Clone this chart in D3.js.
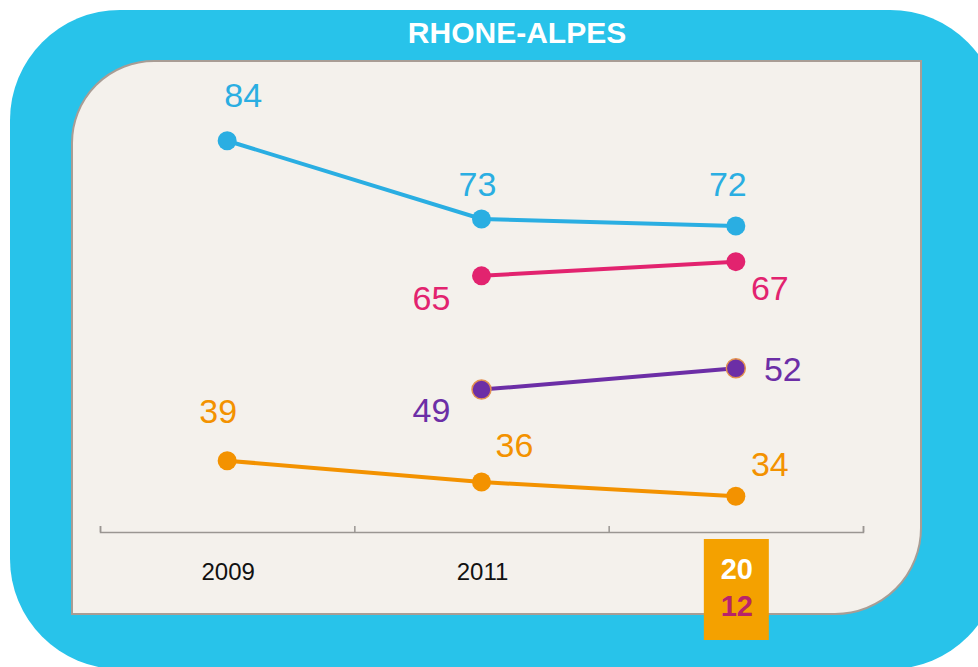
<!DOCTYPE html>
<html>
<head>
<meta charset="utf-8">
<script src="https://cdn.jsdelivr.net/npm/d3@7"></script>
<style>
  html, body { margin: 0; padding: 0; background: #fff; }
  svg { display: block; font-family: "Liberation Sans", Arial, sans-serif; }
</style>
</head>
<body>
<div id="chart"></div>
<script>
// data
const years = ["2009", "2011", "2012"];
const blueValues = [84, 73, 72];
const pinkValues = [null, 65, 67];
const purpleValues = [null, 49, 52];
const orangeValues = [39, 36, 34];
const title = "RHONE-ALPES";

const series = [
  { name: "blue",   values: blueValues,   color: "#2aaee2", stroke: null },
  { name: "pink",   values: pinkValues,   color: "#e2236f", stroke: null },
  { name: "purple", values: purpleValues, color: "#6c2ea6", stroke: "#e39150" },
  { name: "orange", values: orangeValues, color: "#f39200", stroke: null }
];

// label offsets (dx, dy to baseline) relative to each point
const labelOffsets = {
  blue:   [[16, -34], [-4, -23], [-8, -30]],
  pink:   [null, [-50, 34], [34, 38]],
  purple: [null, [-50, 32], [47, 13]],
  orange: [[-9, -38], [33, -25], [34, -20]]
};

const W = 978, H = 667;
const svg = d3.select("#chart").append("svg")
  .attr("width", W).attr("height", H);

// outer blue frame
svg.append("rect")
  .attr("x", 10).attr("y", 10)
  .attr("width", 990).attr("height", 659)
  .attr("rx", 110).attr("ry", 110)
  .attr("fill", "#28c3ea");

// inner panel: rounded top-left and bottom-right
const px0 = 72, py0 = 61, px1 = 921, py1 = 614, rTL = 82, rBR = 86;
const panel = d3.path();
panel.moveTo(px0, py0 + rTL);
panel.arcTo(px0, py0, px0 + rTL, py0, rTL);
panel.lineTo(px1, py0);
panel.lineTo(px1, py1 - rBR);
panel.arcTo(px1, py1, px1 - rBR, py1, rBR);
panel.lineTo(px0, py1);
panel.closePath();
svg.append("path")
  .attr("d", panel.toString())
  .attr("fill", "#f4f1ec")
  .attr("stroke", "#a89d95")
  .attr("stroke-width", 2);

svg.append("text")
  .attr("x", 517).attr("y", 43)
  .attr("text-anchor", "middle")
  .attr("font-size", "30px")
  .attr("font-weight", "bold")
  .attr("fill", "#fff")
  .text(title);

// scales
const x = d3.scaleBand().domain(years).range([100, 863]);
const cx = d => x(d) + x.bandwidth() / 2;
const y = d3.scaleLinear().domain([0, 100]).range([738, 27]);

// axis with ticks at the band boundaries
const xEdges = d3.scaleLinear().domain([0, years.length]).range(x.range());
const axis = svg.append("g")
  .attr("transform", "translate(0,532)")
  .call(d3.axisTop(xEdges).ticks(years.length).tickSize(6).tickSizeOuter(6).tickFormat(""));
axis.selectAll("path, line").attr("stroke", "#9a9692").attr("stroke-width", 1.5);

// year labels (last one goes in the orange box)
svg.selectAll(".year")
  .data(years.slice(0, -1))
  .join("text")
  .attr("class", "year")
  .attr("x", d => cx(d) + 1)
  .attr("y", 580)
  .attr("text-anchor", "middle")
  .attr("font-size", "24px")
  .attr("fill", "#111")
  .text(d => d);

const lastYear = years[years.length - 1];
svg.append("rect")
  .attr("x", cx(lastYear) - 32).attr("y", 539)
  .attr("width", 65).attr("height", 101)
  .attr("fill", "#f4a100");
svg.append("text")
  .attr("x", cx(lastYear) + 1).attr("y", 579)
  .attr("text-anchor", "middle")
  .attr("font-size", "29px").attr("font-weight", "bold")
  .attr("fill", "#fff")
  .text(lastYear.slice(0, 2));
svg.append("text")
  .attr("x", cx(lastYear) + 1).attr("y", 616)
  .attr("text-anchor", "middle")
  .attr("font-size", "29px").attr("font-weight", "bold")
  .attr("fill", "#b8236a")
  .text(lastYear.slice(2));

// lines, points, labels
const line = d3.line()
  .defined(d => d.v != null)
  .x(d => cx(d.year))
  .y(d => y(d.v));

series.forEach(s => {
  const pts = s.values.map((v, i) => ({ year: years[i], v: v, i: i }));
  const g = svg.append("g");
  g.append("path")
    .datum(pts)
    .attr("d", line)
    .attr("fill", "none")
    .attr("stroke", s.color)
    .attr("stroke-width", 4);
  const valid = pts.filter(d => d.v != null);
  g.selectAll("circle")
    .data(valid)
    .join("circle")
    .attr("cx", d => cx(d.year))
    .attr("cy", d => y(d.v))
    .attr("r", 9.5)
    .attr("fill", s.color)
    .attr("stroke", s.stroke || "none")
    .attr("stroke-width", 1.5);
  g.selectAll("text")
    .data(valid)
    .join("text")
    .attr("x", d => cx(d.year) + labelOffsets[s.name][d.i][0])
    .attr("y", d => y(d.v) + labelOffsets[s.name][d.i][1])
    .attr("text-anchor", "middle")
    .attr("font-size", "34px")
    .attr("fill", s.color)
    .text(d => d.v);
});
</script>
</body>
</html>
